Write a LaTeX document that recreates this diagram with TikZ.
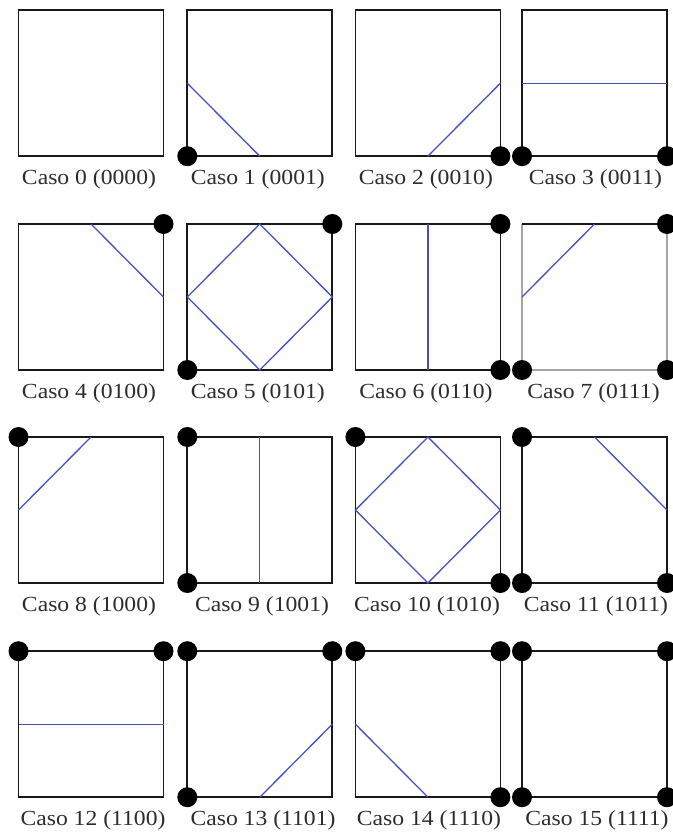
\documentclass[tikz,border=0pt]{standalone}
\usepackage{fontspec}
\newfontfamily\labfont[FakeStretch=1.1]{Liberation Serif}
\definecolor{iso}{RGB}{70,80,190}
\definecolor{edge}{RGB}{25,25,25}
\definecolor{txt}{RGB}{45,45,45}
\definecolor{pale}{RGB}{165,165,165}
\begin{document}
\begin{tikzpicture}[x=1pt,y=-1pt,
  cellbox/.style={rectangle,draw=edge,line width=1.8pt,minimum width=145pt,minimum height=146pt,inner sep=0pt,outer sep=0pt},
  isoline/.style={draw=iso,line width=1.3pt},
  vdot/.style={circle,fill=black,minimum size=20pt,inner sep=0pt},
  caption/.style={font=\labfont\fontsize{21.5}{24}\selectfont,text=txt,anchor=base,inner sep=0pt}]
\useasboundingbox (0,0) rectangle (672,834);
% squares
\node[cellbox] (s0)  at (91,83.2) {};
\node[cellbox] (s1)  at (259.8,83.2) {};
\node[cellbox] (s2)  at (427.9,83.2) {};
\node[cellbox] (s3)  at (594.5,83.2) {};
\node[cellbox] (s4)  at (91,297) {};
\node[cellbox] (s5)  at (259.8,297) {};
\node[cellbox] (s6)  at (427.9,297) {};
\node[cellbox,draw=none] (s7)  at (594.5,297) {};
\node[cellbox] (s8)  at (91,510) {};
\node[cellbox] (s9)  at (259.8,510) {};
\node[cellbox] (s10) at (427.9,510) {};
\node[cellbox] (s11) at (594.5,510) {};
\node[cellbox] (s12) at (91,724.2) {};
\node[cellbox] (s13) at (259.8,724.2) {};
\node[cellbox] (s14) at (427.9,724.2) {};
\node[cellbox] (s15) at (594.5,724.2) {};
\draw[line width=1.8pt,pale] (s7.north west) -- (s7.south west) -- (s7.south east) -- (s7.north east);
\draw[line width=1.8pt,edge] (s7.north west) -- (s7.north east);
% iso lines
\draw[isoline] (s1.west) -- (s1.south);
\draw[isoline] (s2.south) -- (s2.east);
\draw[isoline] (s3.west) -- (s3.east);
\draw[isoline] (s4.north) -- (s4.east);
\draw[isoline] (s5.west) -- (s5.north) -- (s5.east) -- (s5.south) -- cycle;
\draw[isoline] (s6.north) -- (s6.south);
\draw[isoline] (s7.west) -- (s7.north);
\draw[isoline] (s8.west) -- (s8.north);
\draw[isoline] (s9.north) -- (s9.south);
\draw[isoline] (s10.west) -- (s10.north) -- (s10.east) -- (s10.south) -- cycle;
\draw[isoline] (s11.north) -- (s11.east);
\draw[isoline] (s12.west) -- (s12.east);
\draw[isoline] (s13.south) -- (s13.east);
\draw[isoline] (s14.west) -- (s14.south);
% vertex dots
\node[vdot] (d1bl) at (s1.south west) {};
\node[vdot] (d2br) at (s2.south east) {};
\node[vdot] (d3bl) at (s3.south west) {};
\node[vdot] (d3br) at (s3.south east) {};
\node[vdot] (d4tr) at (s4.north east) {};
\node[vdot] (d5tr) at (s5.north east) {};
\node[vdot] (d5bl) at (s5.south west) {};
\node[vdot] (d6tr) at (s6.north east) {};
\node[vdot] (d6br) at (s6.south east) {};
\node[vdot] (d7tr) at (s7.north east) {};
\node[vdot] (d7br) at (s7.south east) {};
\node[vdot] (d7bl) at (s7.south west) {};
\node[vdot] (d8tl) at (s8.north west) {};
\node[vdot] (d9tl) at (s9.north west) {};
\node[vdot] (d9bl) at (s9.south west) {};
\node[vdot] (d10tl) at (s10.north west) {};
\node[vdot] (d10br) at (s10.south east) {};
\node[vdot] (d11tl) at (s11.north west) {};
\node[vdot] (d11br) at (s11.south east) {};
\node[vdot] (d11bl) at (s11.south west) {};
\node[vdot] (d12tl) at (s12.north west) {};
\node[vdot] (d12tr) at (s12.north east) {};
\node[vdot] (d13tl) at (s13.north west) {};
\node[vdot] (d13tr) at (s13.north east) {};
\node[vdot] (d13bl) at (s13.south west) {};
\node[vdot] (d14tl) at (s14.north west) {};
\node[vdot] (d14tr) at (s14.north east) {};
\node[vdot] (d14br) at (s14.south east) {};
\node[vdot] (d15tl) at (s15.north west) {};
\node[vdot] (d15tr) at (s15.north east) {};
\node[vdot] (d15br) at (s15.south east) {};
\node[vdot] (d15bl) at (s15.south west) {};
% captions
\node[caption] (l0)  at (89,184.2) {Caso 0 (0000)};
\node[caption] (l1)  at (257.8,184.2) {Caso 1 (0001)};
\node[caption] (l2)  at (425.9,184.2) {Caso 2 (0010)};
\node[caption] (l3)  at (595.5,184.2) {Caso 3 (0011)};
\node[caption] (l4)  at (89,398) {Caso 4 (0100)};
\node[caption] (l5)  at (257.8,398) {Caso 5 (0101)};
\node[caption] (l6)  at (425.9,398) {Caso 6 (0110)};
\node[caption] (l7)  at (593.5,398) {Caso 7 (0111)};
\node[caption] (l8)  at (89,611.5) {Caso 8 (1000)};
\node[caption] (l9)  at (262,611.5) {Caso 9 (1001)};
\node[caption] (l10) at (427,611.5) {Caso 10 (1010)};
\node[caption] (l11) at (596,611.5) {Caso 11 (1011)};
\node[caption] (l12) at (93,825) {Caso 12 (1100)};
\node[caption] (l13) at (263,825) {Caso 13 (1101)};
\node[caption] (l14) at (429,825) {Caso 14 (1110)};
\node[caption] (l15) at (597,825) {Caso 15 (1111)};
\end{tikzpicture}
\end{document}
